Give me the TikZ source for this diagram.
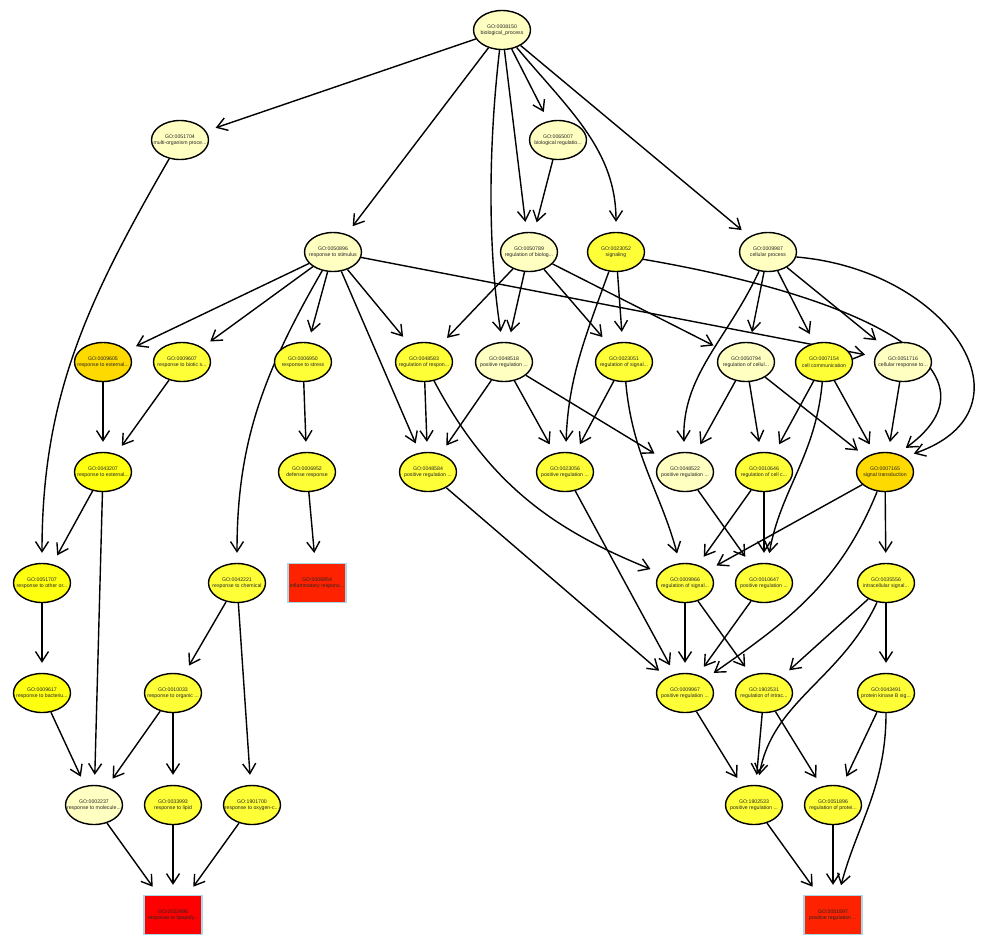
\documentclass[tikz,border=0pt]{standalone}
\usepackage{fontspec}
\setmainfont{Liberation Sans}
\usetikzlibrary{shapes.geometric,arrows.meta}
\definecolor{golight}{HTML}{FFFFC2}
\definecolor{goyel}{HTML}{FFFF38}
\definecolor{gopure}{HTML}{FFFF10}
\definecolor{gogold}{HTML}{FFDA00}
\definecolor{gored}{HTML}{FF0000}
\definecolor{goredb}{HTML}{FF2200}
\definecolor{gobord}{HTML}{A8D8E8}
\newcommand{\gofont}{\fontsize{5.2}{6.5}\selectfont}
\pgfdeclarelayer{bg}
\pgfsetlayers{bg,main}
\begin{document}
\begin{tikzpicture}[x=1pt,y=-1pt,
 go/.style={ellipse, draw=black, line width=1.4pt, minimum width=57pt, minimum height=39pt, inner xsep=-10pt, inner ysep=0pt, align=center, font=\gofont, text=black!85},
 lt/.style={go, fill=golight},
 yl/.style={go, fill=goyel},
 yp/.style={go, fill=gopure},
 gd/.style={go, fill=gogold},
 term/.style={rectangle, draw=gobord, line width=1.3pt, minimum width=58pt, minimum height=39pt, inner xsep=-10pt, inner ysep=0pt, align=center, font=\gofont, text=black!85},
 goarrow/.style={-{Straight Barb[length=10pt,width=13pt]}, line width=1.4pt, shorten >=10pt}]
\useasboundingbox (0,0) rectangle (1000,946);
% row 1
\node[lt] (n8150) at (502,30) {GO:0008150\\biological\_process};
% row 2
\node[lt] (n51704) at (180,140) {GO:0051704\\multi-organism proce...};
\node[lt] (n65007) at (558,140) {GO:0065007\\biological regulatio...};
% row 3
\node[lt] (n50896) at (333,252) {GO:0050896\\response to stimulus};
\node[lt] (n50789) at (529,252) {GO:0050789\\regulation of biolog...};
\node[yl] (n23052) at (616,252) {GO:0023052\\signaling};
\node[lt] (n9987) at (768,252) {GO:0009987\\cellular process};
% row 4
\node[gd] (n9605) at (103,362) {GO:0009605\\response to external...};
\node[yl] (n9607) at (182,362) {GO:0009607\\response to biotic s...};
\node[yl] (n6950) at (303,362) {GO:0006950\\response to stress};
\node[yl] (n48583) at (424,362) {GO:0048583\\regulation of respon...};
\node[lt] (n48518) at (504,362) {GO:0048518\\positive regulation ...};
\node[yl] (n23051) at (624,362) {GO:0023051\\regulation of signal...};
\node[lt] (n50794) at (746,362) {GO:0050794\\regulation of cellul...};
\node[yl] (n7154) at (824,362) {GO:0007154\\cell communication};
\node[lt] (n51716) at (903,362) {GO:0051716\\cellular response to...};
% row 5
\node[yp] (n43207) at (103,472) {GO:0043207\\response to external...};
\node[yl] (n6952) at (307,472) {GO:0006952\\defense response};
\node[yl] (n48584) at (428,472) {GO:0048584\\positive regulation ...};
\node[yl] (n23056) at (565,472) {GO:0023056\\positive regulation ...};
\node[lt] (n48522) at (685,472) {GO:0048522\\positive regulation ...};
\node[yl] (n10646) at (764,472) {GO:0010646\\regulation of cell c...};
\node[gd] (n7165) at (885,472) {GO:0007165\\signal transduction};
% row 6
\node[yp] (n51707) at (42,583) {GO:0051707\\response to other or...};
\node[yl] (n42221) at (237,583) {GO:0042221\\response to chemical};
\node[term, fill=goredb] (n6954) at (317,583) {GO:0006954\\inflammatory respons...};
\node[yl] (n9966) at (685,583) {GO:0009966\\regulation of signal...};
\node[yl] (n10647) at (764,583) {GO:0010647\\positive regulation ...};
\node[yl] (n35556) at (886,583) {GO:0035556\\intracellular signal...};
% row 7
\node[yp] (n9617) at (42,693) {GO:0009617\\response to bacteriu...};
\node[yl] (n10033) at (173,693) {GO:0010033\\response to organic ...};
\node[yl] (n9967) at (685,693) {GO:0009967\\positive regulation ...};
\node[yl] (n1902531) at (764,693) {GO:1902531\\regulation of intrac...};
\node[yl] (n43491) at (886,693) {GO:0043491\\protein kinase B sig...};
% row 8
\node[lt] (n2237) at (94,805) {GO:0002237\\response to molecule...};
\node[yl] (n33993) at (173,805) {GO:0033993\\response to lipid};
\node[yl] (n1901700) at (252,805) {GO:1901700\\response to oxygen-c...};
\node[yl] (n1902533) at (754,805) {GO:1902533\\positive regulation ...};
\node[yl] (n51896) at (833,805) {GO:0051896\\regulation of protei...};
% row 9
\node[term, fill=gored] (n32496) at (173,915) {GO:0032496\\response to lipopoly...};
\node[term, fill=goredb] (n51897) at (833,915) {GO:0051897\\positive regulation ...};

\begin{pgfonlayer}{bg}
\draw[goarrow] (n8150) -- (n51704);
\draw[goarrow] (n8150) -- (n50896);
\draw[goarrow] (n8150.-97) .. controls (488,150) and (488,250) .. (n48518.95);
\draw[goarrow] (n8150) -- (n50789);
\draw[goarrow] (n8150) -- (n65007);
\draw[goarrow] (n8150) to[out=-50, in=90] (n23052);
\draw[goarrow] (n8150) -- (n9987);
\draw[goarrow] (n65007) -- (n50789);
\draw[goarrow] (n51704) to[out=-120, in=90] (n51707);
\draw[goarrow] (n50896) -- (n9605);
\draw[goarrow] (n50896) -- (n9607);
\draw[goarrow] (n50896) to[out=-120, in=90] (n42221);
\draw[goarrow] (n50896) -- (n6950);
\draw[goarrow] (n50896) -- (n48584);
\draw[goarrow] (n50896) -- (n48583);
\draw[goarrow] (n50896) -- (n51716);
\draw[goarrow] (n50789) -- (n48583);
\draw[goarrow] (n50789) -- (n48518);
\draw[goarrow] (n50789) -- (n23051);
\draw[goarrow] (n50789) -- (n50794);
\draw[goarrow] (n23052) -- (n23051);
\draw[goarrow] (n23052) to[out=-110, in=88] (n23056);
\draw[goarrow] (n23052.-15) .. controls (880,300) and (1005,375) .. (n7165.55);
\draw[goarrow] (n9987) to[out=-115, in=92] (n48522);
\draw[goarrow] (n9987) -- (n50794);
\draw[goarrow] (n9987) -- (n7154);
\draw[goarrow] (n9987) -- (n51716);
\draw[goarrow] (n9987.-10) .. controls (950,270) and (1040,410) .. (n7165.38);
\draw[goarrow] (n9605) -- (n43207);
\draw[goarrow] (n9607) -- (n43207);
\draw[goarrow] (n6950) -- (n6952);
\draw[goarrow] (n6952) -- (n6954);
\draw[goarrow] (n48583) -- (n48584);
\draw[goarrow] (n48583) to[out=-62, in=158] (n9966);
\draw[goarrow] (n48518) -- (n48584);
\draw[goarrow] (n48518) -- (n23056);
\draw[goarrow] (n48518) -- (n48522);
\draw[goarrow] (n23051) -- (n23056);
\draw[goarrow] (n23051) to[out=-85, in=105] (n9966);
\draw[goarrow] (n50794) -- (n48522);
\draw[goarrow] (n50794) -- (n10646);
\draw[goarrow] (n50794) -- (n7165);
\draw[goarrow] (n7154) -- (n10646);
\draw[goarrow] (n7154) to[out=-95, in=80] (n10647);
\draw[goarrow] (n7154) -- (n7165);
\draw[goarrow] (n51716) -- (n7165);
\draw[goarrow] (n43207) -- (n51707);
\draw[goarrow] (n43207) -- (n2237);
\draw[goarrow] (n42221) -- (n10033);
\draw[goarrow] (n42221) -- (n1901700);
\draw[goarrow] (n48584) -- (n9967);
\draw[goarrow] (n23056) -- (n9967);
\draw[goarrow] (n48522) -- (n10647);
\draw[goarrow] (n10646) -- (n10647);
\draw[goarrow] (n10646) -- (n9966);
\draw[goarrow] (n7165) -- (n9966);
\draw[goarrow] (n7165) to[out=-112, in=35] (n9967);
\draw[goarrow] (n7165) -- (n35556);
\draw[goarrow] (n51707) -- (n9617);
\draw[goarrow] (n9966) -- (n9967);
\draw[goarrow] (n9966) -- (n1902531);
\draw[goarrow] (n10647) -- (n9967);
\draw[goarrow] (n35556) -- (n1902531);
\draw[goarrow] (n35556) -- (n43491);
\draw[goarrow] (n35556) to[out=-115, in=80] (n1902533);
\draw[goarrow] (n9617) -- (n2237);
\draw[goarrow] (n10033) -- (n2237);
\draw[goarrow] (n10033) -- (n33993);
\draw[goarrow] (n9967) -- (n1902533);
\draw[goarrow] (n1902531) -- (n1902533);
\draw[goarrow] (n1902531) -- (n51896);
\draw[goarrow] (n43491) -- (n51896);
\draw[goarrow] (n43491) to[out=-90, in=75] (n51897);
\draw[goarrow] (n2237) -- (n32496);
\draw[goarrow] (n33993) -- (n32496);
\draw[goarrow] (n1901700) -- (n32496);
\draw[goarrow] (n1902533) -- (n51897);
\draw[goarrow] (n51896) -- (n51897);
\end{pgfonlayer}
\end{tikzpicture}
\end{document}
